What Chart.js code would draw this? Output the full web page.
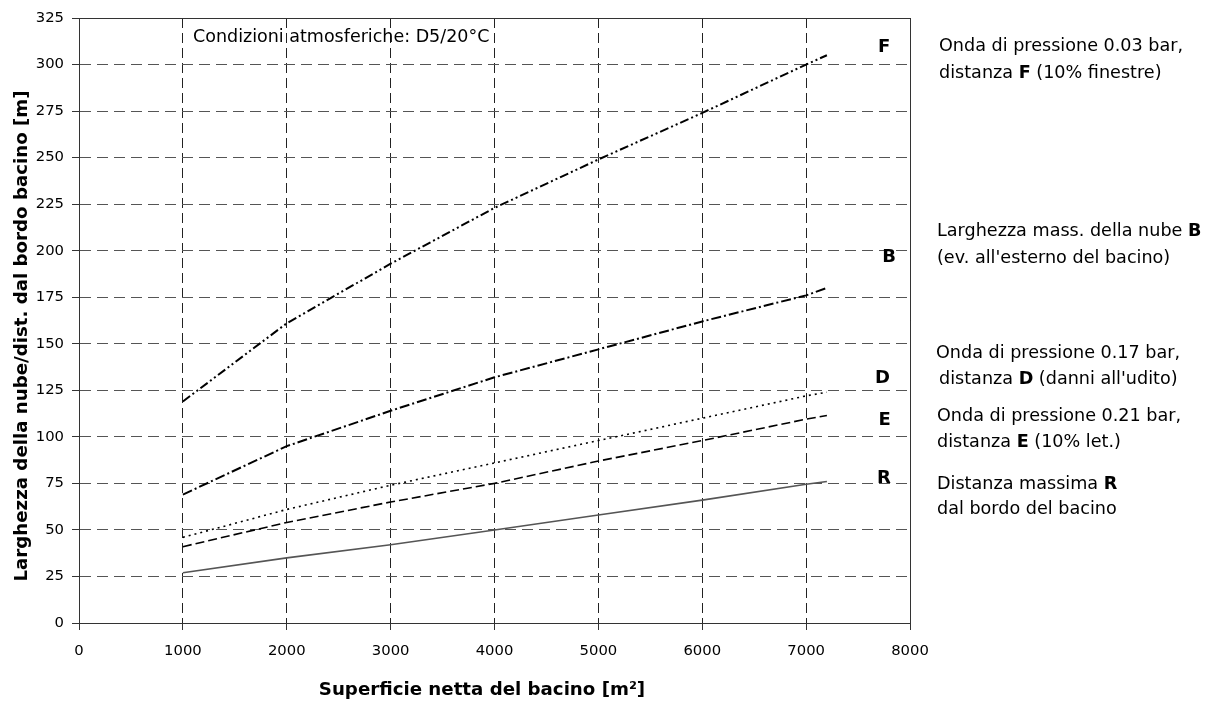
<!DOCTYPE html>
<html><head><meta charset="utf-8">
<script src="https://cdn.jsdelivr.net/npm/chart.js@4.4.0/dist/chart.umd.min.js"></script>
<style>html,body{margin:0;padding:0;background:#fff}#wrap{width:1216px;height:702px;position:relative}</style>
</head><body><div id="wrap"><canvas id="c"></canvas></div>
<script>
// ---- data ----
const surface = [1000, 2000, 3000, 4000, 5000, 6000, 7000, 7200];
const seriesF = [119, 161, 193, 223, 249, 274, 300, 305];
const seriesB = [69, 95, 114, 132, 147, 162, 176, 180];
const seriesD = [46, 61, 74, 86, 98, 110, 122, 124];
const seriesE = [41, 54, 65, 75, 87, 98, 109.5, 111.5];
const seriesR = [27, 35, 42, 50, 58, 66, 74.5, 76];
const seriesNames = ['F', 'B', 'D', 'E', 'R'];
const xTickValues = [0, 1000, 2000, 3000, 4000, 5000, 6000, 7000, 8000];
const yTickValues = [0, 25, 50, 75, 100, 125, 150, 175, 200, 225, 250, 275, 300, 325];
const xTitle = 'Superficie netta del bacino [m\u00B2]';
const yTitle = "Larghezza della nube/dist. dal bordo bacino [m]";
const noteText = 'Condizioni atmosferiche: D5/20\u00B0C';
const legendTexts = [
  [[['Onda di pressione 0.03 bar,', 0]], [['distanza ', 0], ['F', 1], [' (10% finestre)', 0]]],
  [[['Larghezza mass. della nube ', 0], ['B', 1]], [["(ev. all'esterno del bacino)", 0]]],
  [[['Onda di pressione 0.17 bar,', 0]], [['distanza ', 0], ['D', 1], [" (danni all'udito)", 0]]],
  [[['Onda di pressione 0.21 bar,', 0]], [['distanza ', 0], ['E', 1], [' (10% let.)', 0]]],
  [[['Distanza massima ', 0], ['R', 1]], [['dal bordo del bacino', 0]]]
];

// ---- layout / style (not data) ----
const FONT = '"DejaVu Sans", Verdana, sans-serif';
const target = {left: 79, top: 18, right: 910, bottom: 623};
const letterAnchors = [[7750, 309.5], [7798, 196.4], [7735, 131.7], [7755, 109.1], [7750, 77.9]];
const legendPos = [[[939, 46], [939, 73]], [[937, 231], [937, 258]], [[936, 353], [939, 379]], [[937, 416], [937, 442]], [[937, 484], [937, 509]]];
const styles = [
  {color: '#000', width: 2, dash: [9, 3, 2, 3, 2, 3]},
  {color: '#000', width: 2, dash: [10, 3, 2, 3]},
  {color: '#000', width: 1.6, dash: [2, 4]},
  {color: '#000', width: 1.6, dash: [9, 4]},
  {color: '#555', width: 1.6, dash: []}
];
const allSeries = [seriesF, seriesB, seriesD, seriesE, seriesR];

function rich(ctx, parts, x, y, size) {
  let cx = x;
  for (const [t, b] of parts) {
    ctx.font = (b ? 'bold ' : '') + size + 'px ' + FONT;
    ctx.fillText(t, cx, y);
    cx += ctx.measureText(t).width;
  }
}

const annot = {
  id: 'annot',
  afterDraw(chart) {
    const {ctx, chartArea: a, scales: {x, y}} = chart;
    ctx.save();
    // frame top & right
    ctx.strokeStyle = '#333'; ctx.lineWidth = 1; ctx.setLineDash([]);
    const L = Math.round(a.left - 0.5) + 0.5, R = Math.round(a.right - 0.5) + 0.5, T = Math.round(a.top - 0.5) + 0.5;
    ctx.beginPath(); ctx.moveTo(L, T); ctx.lineTo(R, T); ctx.lineTo(R, Math.round(a.bottom)); ctx.stroke();
    ctx.fillStyle = '#000';
    ctx.textBaseline = 'middle';
    ctx.textAlign = 'left';
    // note
    ctx.font = '17.5px ' + FONT;
    ctx.fillText(noteText, 193, 37);
    // series letters
    ctx.textAlign = 'center';
    ctx.font = 'bold 18px ' + FONT;
    seriesNames.forEach((n, i) => {
      ctx.fillText(n, x.getPixelForValue(letterAnchors[i][0]), y.getPixelForValue(letterAnchors[i][1]));
    });
    // legend texts
    ctx.textAlign = 'left';
    legendTexts.forEach((block, i) => {
      block.forEach((line, j) => rich(ctx, line, legendPos[i][j][0], legendPos[i][j][1], 17.6));
    });
    // axis titles
    ctx.font = 'bold 18.2px ' + FONT;
    ctx.textAlign = 'center';
    ctx.fillText(xTitle, 482, 690);
    ctx.translate(22, 336);
    ctx.rotate(-Math.PI / 2);
    ctx.fillText(yTitle, 0, 0);
    ctx.restore();
  }
};

const datasets = allSeries.map((s, i) => ({
  label: seriesNames[i],
  data: surface.map((v, k) => ({x: v, y: s[k]})),
  borderColor: styles[i].color,
  borderWidth: styles[i].width,
  borderDash: styles[i].dash,
  pointRadius: 0,
  fill: false,
  tension: 0
}));

const chart = new Chart(document.getElementById('c'), {
  type: 'line',
  data: {datasets},
  options: {
    responsive: true,
    maintainAspectRatio: false,
    animation: false,
    layout: {padding: {left: 0, top: 18, right: 306, bottom: 0}},
    plugins: {legend: {display: false}, tooltip: {enabled: false}},
    scales: {
      x: {
        type: 'linear', min: 0, max: 8000,
        afterBuildTicks: s => { s.ticks = xTickValues.map(v => ({value: v})); },
        afterFit: s => { s.height = 79; },
        ticks: {color: '#000', font: {family: FONT, size: 14.8}, padding: 12, maxRotation: 0, autoSkip: false, callback: v => String(v)},
        grid: {color: '#222', lineWidth: 1, tickLength: 7, tickColor: '#333'},
        border: {display: true, color: '#333', width: 1, dash: [10, 5]}
      },
      y: {
        type: 'linear', min: 0, max: 325,
        afterBuildTicks: s => { s.ticks = yTickValues.map(v => ({value: v})); },
        afterFit: s => { s.width = 79; },
        ticks: {color: '#000', font: {family: FONT, size: 14.8}, padding: 8, autoSkip: false, callback: v => String(v)},
        grid: {color: '#555', lineWidth: 1, tickLength: 7, tickColor: '#333'},
        border: {display: true, color: '#333', width: 1, dash: [11, 6]}
      }
    }
  },
  plugins: [annot]
});

// fit chart area to reference frame
const pad = chart.options.layout.padding;
const ca = chart.chartArea;
pad.top += target.top - ca.top;
pad.right += ca.right - target.right;
pad.left += target.left - ca.left;
pad.bottom += ca.bottom - target.bottom;
chart.update('none');
</script></body></html>
